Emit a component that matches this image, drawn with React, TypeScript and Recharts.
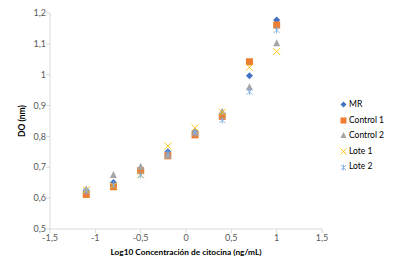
import React from "react";
import {
  ScatterChart,
  Scatter,
  XAxis,
  YAxis,
  Label,
} from "recharts";

const logConc = [-1.1, -0.8, -0.5, -0.2, 0.1, 0.4, 0.7, 1.0];

const mrValues = [0.625, 0.651, 0.692, 0.75, 0.815, 0.87, 0.997, 1.177];
const control1Values = [0.612, 0.637, 0.689, 0.737, 0.805, 0.865, 1.042, 1.161];
const control2Values = [0.628, 0.675, 0.702, 0.738, 0.815, 0.88, 0.959, 1.102];
const lote1Values = [0.627, 0.64, 0.675, 0.769, 0.828, 0.878, 1.024, 1.075];
const lote2Values = [0.622, 0.643, 0.675, 0.745, 0.81, 0.853, 0.945, 1.145];

const xTicks = [-1.5, -1, -0.5, 0, 0.5, 1, 1.5];
const yTicks = [0.5, 0.6, 0.7, 0.8, 0.9, 1, 1.1, 1.2];

const FONT = "Lato, 'Open Sans', sans-serif";

type ShapeKind = "diamond" | "square" | "triangle" | "x" | "star";

const series: { name: string; values: number[]; color: string; shape: ShapeKind }[] = [
  { name: "MR", values: mrValues, color: "#4472C4", shape: "diamond" },
  { name: "Control 1", values: control1Values, color: "#ED7D31", shape: "square" },
  { name: "Control 2", values: control2Values, color: "#A5A5A5", shape: "triangle" },
  { name: "Lote 1", values: lote1Values, color: "#FFC000", shape: "x" },
  { name: "Lote 2", values: lote2Values, color: "#7FAEE0", shape: "star" },
];

const toPoints = (values: number[]) =>
  logConc.map((x, i) => ({ x, y: values[i] }));

const fmt = (v: number) => String(v).replace(".", ",");

function Marker({ kind, cx, cy, color, r = 3.5 }: { kind: ShapeKind; cx: number; cy: number; color: string; r?: number }) {
  switch (kind) {
    case "diamond":
      return (
        <path
          d={`M${cx},${cy - r} L${cx + r},${cy} L${cx},${cy + r} L${cx - r},${cy} Z`}
          fill={color}
        />
      );
    case "square":
      return <rect x={cx - r} y={cy - r} width={2 * r} height={2 * r} fill={color} />;
    case "triangle":
      return (
        <path
          d={`M${cx},${cy - r - 0.5} L${cx + r},${cy + r - 0.5} L${cx - r},${cy + r - 0.5} Z`}
          fill={color}
        />
      );
    case "x":
      return (
        <path
          d={`M${cx - r},${cy - r} L${cx + r},${cy + r} M${cx + r},${cy - r} L${cx - r},${cy + r}`}
          stroke={color}
          strokeWidth={0.9}
          fill="none"
        />
      );
    default:
      return (
        <path
          d={`M${cx - r + 0.5},${cy - r + 0.5} L${cx + r - 0.5},${cy + r - 0.5} M${cx + r - 0.5},${cy - r + 0.5} L${cx - r + 0.5},${cy + r - 0.5} M${cx},${cy - r} L${cx},${cy + r}`}
          stroke={color}
          strokeWidth={0.9}
          fill="none"
        />
      );
  }
}

const YTitle = (props: any) => {
  const vb = props.viewBox || {};
  const cx = vb.x + 2;
  const cy = vb.y + vb.height / 2;
  return (
    <text
      x={cx}
      y={cy}
      transform={`rotate(-90 ${cx} ${cy})`}
      textAnchor="middle"
      dominantBaseline="central"
      fontFamily={FONT}
      fontSize={8.5}
      fontWeight={700}
      fill="#000"
    >
      DO (nm)
    </text>
  );
};

export default function App() {
  return (
    <div style={{ position: "absolute", left: 0, top: 0, width: 396, height: 278, background: "#fff" }}>
      <ScatterChart
        width={396}
        height={278}
        margin={{ top: 13, right: 74, bottom: 29, left: 20 }}
      >
        <XAxis
          type="number"
          dataKey="x"
          domain={[-1.5, 1.5]}
          ticks={xTicks}
          tickFormatter={fmt}
          height={20}
          stroke="#D9D9D9"
          tickSize={4}
          tickMargin={2}
          tick={{ fill: "#595959", fontSize: 9, fontFamily: FONT }}
        >
          <Label
            value="Log10 Concentración de citocina (ng/mL)"
            position="bottom"
            offset={0}
            style={{ fontFamily: FONT, fontSize: 8.3, fontWeight: 700, fill: "#000" }}
          />
        </XAxis>
        <YAxis
          type="number"
          dataKey="y"
          domain={[0.5, 1.2]}
          ticks={yTicks}
          tickFormatter={fmt}
          width={30}
          stroke="#D9D9D9"
          tickSize={4}
          tickMargin={0}
          tick={{ fill: "#595959", fontSize: 9, fontFamily: FONT }}
        >
          <Label content={YTitle} />
        </YAxis>
        {series.map((s) => (
          <Scatter
            key={s.name}
            name={s.name}
            data={toPoints(s.values)}
            isAnimationActive={false}
            shape={(p: any) => <Marker kind={s.shape} cx={p.cx} cy={p.cy} color={s.color} />}
          />
        ))}
      </ScatterChart>
      <div
        style={{
          position: "absolute",
          left: 340,
          top: 97,
          fontFamily: FONT,
          fontSize: 8.5,
          color: "#000",
          lineHeight: "15.6px",
        }}
      >
        {series.map((s) => (
          <div key={s.name} style={{ display: "flex", alignItems: "center", height: 15.6 }}>
            <svg width={7} height={7} style={{ marginRight: 2 }}>
              <Marker kind={s.shape} cx={3.5} cy={3.5} color={s.color} r={3} />
            </svg>
            <span>{s.name}</span>
          </div>
        ))}
      </div>
    </div>
  );
}
